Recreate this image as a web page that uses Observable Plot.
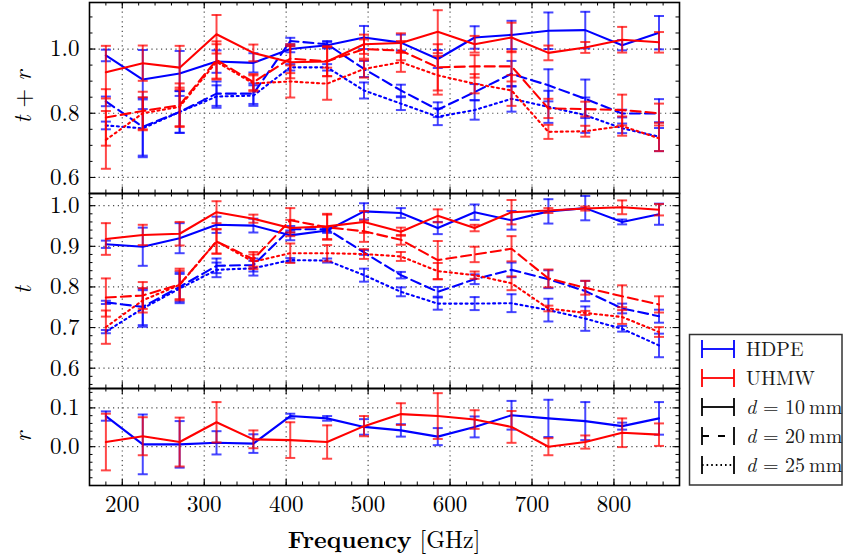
<!DOCTYPE html>
<html><head><meta charset="utf-8">
<script src="https://cdn.jsdelivr.net/npm/d3@7"></script>
<script src="https://cdn.jsdelivr.net/npm/@observablehq/plot@0.6"></script>
<style>
html,body{margin:0;padding:0;background:#fff;}
#wrap{position:relative;width:843px;height:560px;overflow:hidden;background:#fff;}
#wrap svg{position:absolute;left:0;overflow:visible;}
</style></head><body><div id="wrap"></div>
<script>
// ---------------- data ----------------
const freq = [180,225,270,315,360,405,450,495,540,585,630,675,720,765,810,855];

// t + r (top panel)
const tr_hdpe_10 = [0.980,0.905,0.924,0.961,0.957,1.000,1.012,1.036,1.020,0.969,1.036,1.044,1.057,1.059,1.012,1.051];
const tr_hdpe_10_err = [0.018,0.092,0.070,0.035,0.030,0.010,0.010,0.036,0.025,0.028,0.035,0.044,0.057,0.057,0.016,0.052];
const tr_hdpe_20 = [0.837,0.758,0.804,0.861,0.861,1.025,1.015,0.938,0.871,0.811,0.866,0.923,0.887,0.845,0.799,0.799];
const tr_hdpe_20_err = [0.015,0.090,0.065,0.038,0.032,0.010,0.010,0.025,0.018,0.023,0.025,0.040,0.050,0.060,0.012,0.045];
const tr_hdpe_25 = [0.762,0.753,0.804,0.852,0.855,0.943,0.943,0.871,0.830,0.789,0.810,0.845,0.820,0.794,0.753,0.727];
const tr_hdpe_25_err = [0.012,0.090,0.065,0.035,0.032,0.010,0.010,0.025,0.020,0.026,0.030,0.040,0.050,0.055,0.015,0.045];
const tr_uhmw_10 = [0.928,0.956,0.942,1.046,0.988,0.959,0.961,1.015,1.019,1.054,1.015,1.036,0.988,1.005,1.029,1.021];
const tr_uhmw_10_err = [0.082,0.055,0.068,0.060,0.026,0.050,0.045,0.030,0.030,0.067,0.026,0.046,0.023,0.017,0.040,0.032];
const tr_uhmw_20 = [0.787,0.807,0.825,0.966,0.897,0.970,0.962,1.000,0.995,0.943,0.946,0.946,0.815,0.813,0.810,0.800];
const tr_uhmw_20_err = [0.088,0.060,0.068,0.058,0.025,0.045,0.047,0.030,0.030,0.072,0.035,0.047,0.030,0.023,0.048,0.030];
const tr_uhmw_25 = [0.717,0.800,0.820,0.960,0.893,0.899,0.892,0.938,0.959,0.918,0.892,0.871,0.742,0.744,0.760,0.722];
const tr_uhmw_25_err = [0.090,0.050,0.060,0.055,0.025,0.050,0.050,0.027,0.030,0.060,0.030,0.048,0.022,0.017,0.030,0.040];

// t (middle panel)
const t_hdpe_10 = [0.905,0.899,0.920,0.953,0.951,0.927,0.939,0.986,0.982,0.945,0.984,0.964,0.986,0.994,0.960,0.979];
const t_hdpe_10_err = [0.009,0.047,0.037,0.020,0.017,0.012,0.006,0.020,0.012,0.015,0.019,0.023,0.030,0.030,0.006,0.026];
const t_hdpe_20 = [0.762,0.751,0.800,0.852,0.854,0.942,0.942,0.885,0.829,0.788,0.819,0.842,0.819,0.790,0.747,0.728];
const t_hdpe_20_err = [0.004,0.045,0.036,0.018,0.016,0.008,0.006,0.006,0.008,0.012,0.012,0.018,0.022,0.025,0.012,0.016];
const t_hdpe_25 = [0.690,0.747,0.796,0.842,0.846,0.866,0.865,0.829,0.788,0.759,0.759,0.760,0.743,0.722,0.697,0.656];
const t_hdpe_25_err = [0.004,0.045,0.036,0.018,0.018,0.005,0.005,0.016,0.011,0.015,0.016,0.022,0.028,0.030,0.007,0.029];
const t_uhmw_10 = [0.918,0.928,0.931,0.984,0.968,0.945,0.949,0.960,0.936,0.975,0.945,0.984,0.988,0.993,0.996,0.990];
const t_uhmw_10_err = [0.039,0.025,0.029,0.027,0.010,0.020,0.031,0.027,0.010,0.016,0.008,0.030,0.006,0.005,0.017,0.014];
const t_uhmw_20 = [0.774,0.779,0.806,0.912,0.868,0.964,0.947,0.937,0.916,0.866,0.880,0.894,0.821,0.798,0.777,0.757];
const t_uhmw_20_err = [0.047,0.033,0.039,0.030,0.018,0.030,0.031,0.026,0.012,0.047,0.019,0.031,0.022,0.017,0.027,0.020];
const t_uhmw_25 = [0.701,0.767,0.805,0.912,0.862,0.883,0.883,0.881,0.875,0.839,0.829,0.809,0.747,0.736,0.726,0.689];
const t_uhmw_25_err = [0.041,0.030,0.035,0.030,0.018,0.024,0.020,0.012,0.011,0.020,0.009,0.017,0.007,0.005,0.017,0.012];

// r (bottom panel)
const r_hdpe = [0.079,0.006,0.006,0.010,0.008,0.079,0.073,0.051,0.042,0.026,0.051,0.081,0.073,0.066,0.053,0.073];
const r_hdpe_err = [0.012,0.077,0.060,0.030,0.024,0.006,0.006,0.020,0.016,0.022,0.027,0.037,0.048,0.049,0.009,0.042];
const r_uhmw = [0.012,0.027,0.012,0.063,0.019,0.017,0.012,0.053,0.084,0.079,0.070,0.051,0.000,0.012,0.036,0.031];
const r_uhmw_err = [0.073,0.049,0.063,0.052,0.023,0.046,0.043,0.026,0.028,0.059,0.024,0.041,0.022,0.017,0.037,0.029];

// axis ticks
const xMajor = [200,300,400,500,600,700,800];
const xMinor = d3.range(8,44).map(i => i*20);
const trMajor = [0.6,0.8,1.0];
const trMinor = d3.range(11,23).map(i => i*0.05);
const tMajor = [0.6,0.7,0.8,0.9,1.0];
const tMinor = d3.range(28,52).map(i => i*0.02);
const rMajor = [0.0,0.1];
const rMinor = d3.range(-5,8).map(i => i*0.02);

const materials = ["HDPE","UHMW"];
const thicknessLabels = ["10","20","25"];

const DATA = {
  tr: {HDPE: [[tr_hdpe_10,tr_hdpe_10_err],[tr_hdpe_20,tr_hdpe_20_err],[tr_hdpe_25,tr_hdpe_25_err]],
       UHMW: [[tr_uhmw_10,tr_uhmw_10_err],[tr_uhmw_20,tr_uhmw_20_err],[tr_uhmw_25,tr_uhmw_25_err]]},
  t:  {HDPE: [[t_hdpe_10,t_hdpe_10_err],[t_hdpe_20,t_hdpe_20_err],[t_hdpe_25,t_hdpe_25_err]],
       UHMW: [[t_uhmw_10,t_uhmw_10_err],[t_uhmw_20,t_uhmw_20_err],[t_uhmw_25,t_uhmw_25_err]]}
};

// ---------------- drawing ----------------
const FONT = '"Latin Modern Roman","CMU Serif","Liberation Serif","Times New Roman",serif';
const W = 843, ML = 89, MR = 164, IW = W - ML - MR;
const XDOM = [160, 880];
const COL = {HDPE: "#0000ff", UHMW: "#ff0000"};
const DASHES = [undefined, "10,5", "2,3.5"];
const wrap = document.getElementById("wrap");

const capSym = {draw(ctx, size){ const r = Math.sqrt(size/Math.PI); ctx.moveTo(-r,0); ctx.lineTo(r,0); }};

function seriesMarks(vals, errs, color, dash){
  const rows = freq.map((f,i) => ({f, v: vals[i], lo: vals[i]-errs[i], hi: vals[i]+errs[i]}));
  const eb = {stroke: color, strokeWidth: 2, strokeOpacity: 0.72};
  const lineOpts = {x: "f", y: "v", stroke: color, strokeWidth: 2.1};
  if (dash) lineOpts.strokeDasharray = dash;
  return [
    Plot.ruleX(rows, {x: "f", y1: "lo", y2: "hi", ...eb}),
    Plot.dot(rows, {x: "f", y: "lo", symbol: capSym, r: 5, fill: "none", ...eb}),
    Plot.dot(rows, {x: "f", y: "hi", symbol: capSym, r: 5, fill: "none", ...eb}),
    Plot.line(rows, lineOpts)
  ];
}

function panel({top, height, mt, mb, ydom, yMajor, yMinor, series, xaxis}){
  const IH = height - mt - mb;
  const grid = {stroke: "#4a4a4a", strokeWidth: 1.2, strokeDasharray: "1.2,3.6"};
  const tk = {stroke: "#000", strokeWidth: 1};
  const marks = [
    Plot.ruleX(xMajor, {x: d => d, ...grid}),
    Plot.ruleY(yMajor, {y: d => d, ...grid}),
    ...series.flatMap(s => seriesMarks(s.vals, s.errs, s.color, s.dash)),
    Plot.tickX(xMinor, {x: d => d, insetTop: IH - 3.5, ...tk}),
    Plot.tickX(xMinor, {x: d => d, insetBottom: IH - 3.5, ...tk}),
    Plot.tickX(xMajor, {x: d => d, insetTop: IH - 6.5, ...tk}),
    Plot.tickX(xMajor, {x: d => d, insetBottom: IH - 6.5, ...tk}),
    Plot.tickY(yMinor, {y: d => d, insetRight: IW - 3.5, ...tk}),
    Plot.tickY(yMinor, {y: d => d, insetLeft: IW - 3.5, ...tk}),
    Plot.tickY(yMajor, {y: d => d, insetRight: IW - 6.5, ...tk}),
    Plot.tickY(yMajor, {y: d => d, insetLeft: IW - 6.5, ...tk}),
    Plot.frame({stroke: "#000", strokeWidth: 1.6})
  ];
  const svg = Plot.plot({
    width: W, height, marginLeft: ML, marginRight: MR, marginTop: mt, marginBottom: mb,
    x: xaxis ? {domain: XDOM, ticks: xMajor, tickSize: 0, tickPadding: 10, tickFormat: d => String(d), label: null}
             : {domain: XDOM, axis: null},
    y: {domain: ydom, ticks: yMajor, tickSize: 0, tickPadding: 10, tickFormat: ".1f", label: null},
    style: {fontFamily: FONT, fontSize: "23px", background: "transparent", overflow: "visible", color: "#000"},
    marks
  });
  svg.style.top = top + "px";
  wrap.appendChild(svg);
}

function set(key){
  return materials.flatMap(m => DATA[key][m].map(([vals, errs], k) => ({vals, errs, color: COL[m], dash: DASHES[k]})));
}

panel({top: 0, height: 198, mt: 2, mb: 5, ydom: [0.55, 1.145], yMajor: trMajor, yMinor: trMinor, series: set("tr")});
panel({top: 188, height: 205, mt: 5, mb: 5, ydom: [0.55, 1.03], yMajor: tMajor, yMinor: tMinor, series: set("t")});
panel({top: 383, height: 177, mt: 5, mb: 75, ydom: [-0.1, 0.15], yMajor: rMajor, yMinor: rMinor,
  series: [
    {vals: r_hdpe, errs: r_hdpe_err, color: COL.HDPE},
    {vals: r_uhmw, errs: r_uhmw_err, color: COL.UHMW}
  ], xaxis: true});

// ---------------- labels & legend overlay ----------------
const ov = d3.create("svg").attr("width", W).attr("height", 560)
  .style("top", "0px").style("font-family", FONT).style("pointer-events", "none");

function ylabel(cx, cy, parts){
  const t = ov.append("text").attr("transform", `translate(${cx},${cy}) rotate(-90)`)
    .attr("text-anchor", "middle").attr("font-size", 24).attr("fill", "#000");
  parts.forEach(p => t.append("tspan").attr("font-style", p.i ? "italic" : "normal").text(p.s));
}
ylabel(31, 97, [{s: "t", i: 1}, {s: " + "}, {s: "r", i: 1}]);
ylabel(31, 290, [{s: "t", i: 1}]);
ylabel(31, 437, [{s: "r", i: 1}]);

const xl = ov.append("text").attr("x", 384).attr("y", 548).attr("text-anchor", "middle")
  .attr("font-size", 24).attr("fill", "#000");
xl.append("tspan").attr("font-weight", "bold").text("Frequency");
xl.append("tspan").text(" [GHz]");

// legend
ov.append("rect").attr("x", 689.5).attr("y", 334.5).attr("width", 152.5).attr("height", 150.5)
  .attr("fill", "#fff").attr("stroke", "#333").attr("stroke-width", 1.5);
const legendRows = [
  {label: [{s: materials[0]}], color: COL.HDPE},
  {label: [{s: materials[1]}], color: COL.UHMW},
  {label: [{s: "d", i: 1}, {s: " = " + thicknessLabels[0] + "\u2009mm"}], color: "#000"},
  {label: [{s: "d", i: 1}, {s: " = " + thicknessLabels[1] + "\u2009mm"}], color: "#000", dash: "7,9"},
  {label: [{s: "d", i: 1}, {s: " = " + thicknessLabels[2] + "\u2009mm"}], color: "#000", dash: "1.6,3"}
];
legendRows.forEach((r, k) => {
  const y = 349 + k * 29;
  const g = ov.append("g");
  g.append("line").attr("x1", 702).attr("x2", 734).attr("y1", y).attr("y2", y)
    .attr("stroke", r.color).attr("stroke-width", 1.8).attr("stroke-dasharray", r.dash || null);
  [702, 734].forEach(x => g.append("line").attr("x1", x).attr("x2", x).attr("y1", y - 9).attr("y2", y + 9)
    .attr("stroke", r.color).attr("stroke-width", 1.8));
  const t = g.append("text").attr("x", 746).attr("y", y + 7).attr("font-size", 20).attr("fill", "#1a1a1a");
  r.label.forEach(p => t.append("tspan").attr("font-style", p.i ? "italic" : "normal").text(p.s));
});

wrap.appendChild(ov.node());
</script>
</body></html>
